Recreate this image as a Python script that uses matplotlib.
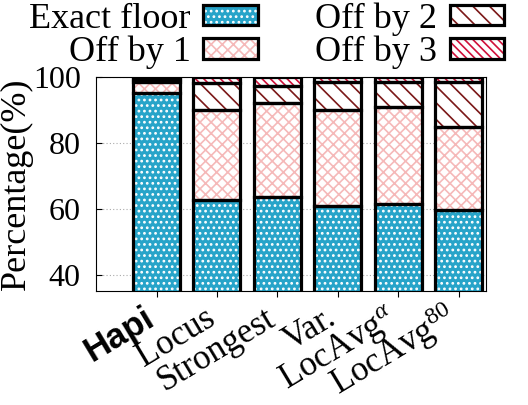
import numpy as np
import matplotlib
matplotlib.use("Agg")
from matplotlib import pyplot as plt
from matplotlib.patches import Patch
from matplotlib.legend_handler import HandlerBase
from matplotlib.patches import Rectangle

methods = ["Hapi", "Locus", "Strongest", "Var.", r"LocAvg$^{\alpha}$", r"LocAvg$^{\mathrm{80}}$"]
exact = [95.1, 62.7, 63.5, 60.9, 61.4, 59.7]
off1 = [3.3, 27.3, 28.5, 29.1, 29.4, 25.1]
off2 = [1.1, 8.1, 5.3, 8.6, 7.8, 13.8]
off3 = [0.5, 1.9, 2.7, 1.4, 1.4, 1.4]
series_names = ["Exact floor", "Off by 1", "Off by 2", "Off by 3"]

plt.rcParams['font.family'] = ['Liberation Serif', 'DejaVu Serif']
plt.rcParams['mathtext.fontset'] = 'custom'
plt.rcParams['mathtext.rm'] = 'Liberation Serif'
plt.rcParams['mathtext.it'] = 'Liberation Serif:italic'
plt.rcParams['hatch.linewidth'] = 1.2

face = ["#27a4c9", "white", "white", "white"]
hcol = ["white", "#f5b9b9", "#7b1818", "#d0103a"]
hatch = ["...", "xxx", "\\\\", "\\\\\\\\"]

fig = plt.figure(figsize=(5.28, 4.05), dpi=100)
ax = fig.add_axes([0.182, 0.281, 0.738, 0.529])

x = np.arange(len(methods))
w = 0.78
data = [exact, off1, off2, off3]
bottom = np.zeros(len(methods))
for i, vals in enumerate(data):
    vals = np.array(vals)
    ax.bar(x, vals, w, bottom=bottom, color=face[i], edgecolor=hcol[i],
           hatch=hatch[i], linewidth=0, zorder=2)
    ax.bar(x, vals, w, bottom=bottom, fill=False, edgecolor="black",
           linewidth=2.3, zorder=3)
    bottom += vals

ax.set_xlim(-1.0, 5.45)
ax.set_ylim(35, 100)
ax.set_yticks([40, 60, 80, 100])
ax.yaxis.grid(True, linestyle=(0, (1, 2)), color="#aaaaaa", linewidth=0.8, zorder=0)
ax.tick_params(axis='y', direction='in', labelsize=23, length=4, pad=11)
ax.tick_params(axis='x', direction='out', length=4, pad=19)
ax.set_ylabel("Percentage(%)", fontsize=26, labelpad=0)
ax.set_xticks(x)
ax.set_xticklabels(methods, rotation=31, ha='right', va='baseline',
                   rotation_mode='anchor', fontsize=25)
lab0 = ax.get_xticklabels()[0]
lab0.set_fontfamily('Liberation Sans')
lab0.set_fontweight('bold')


class SwatchHandler(HandlerBase):
    def create_artists(self, legend, orig_handle, xdescent, ydescent, width, height, fontsize, trans):
        r1 = Rectangle((-xdescent, -ydescent), width, height, facecolor=orig_handle.get_facecolor(),
                       edgecolor=orig_handle.get_edgecolor(), hatch=orig_handle.get_hatch(),
                       linewidth=0, transform=trans)
        r2 = Rectangle((-xdescent, -ydescent), width, height, fill=False, edgecolor="black",
                       linewidth=2.3, transform=trans)
        return [r1, r2]


handles = [Patch(facecolor=face[i], edgecolor=hcol[i], hatch=hatch[i]) for i in range(4)]
leg = fig.legend(handles, series_names, ncol=2, loc='upper center', bbox_to_anchor=(0.505, 1.075),
                 frameon=False, fontsize=26, markerfirst=False, handlelength=1.5, handleheight=0.5,
                 handletextpad=0.35, columnspacing=1.6, labelspacing=0.0,
                 handler_map={Patch: SwatchHandler()})

fig.savefig("out.png", dpi=100)
